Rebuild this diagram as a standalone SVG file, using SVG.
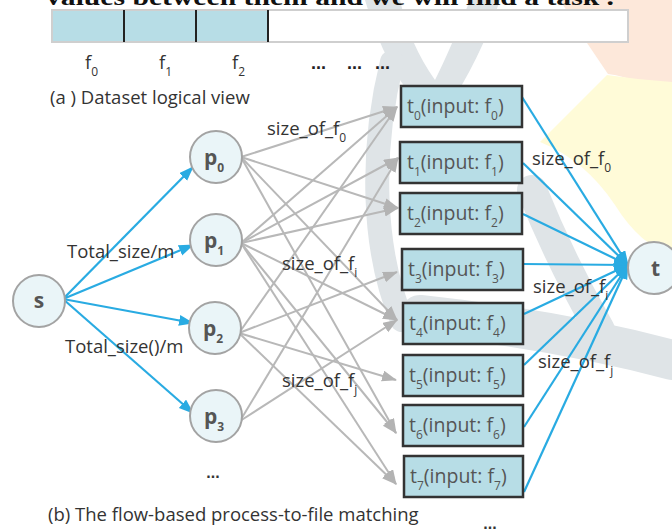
<svg xmlns="http://www.w3.org/2000/svg" width="672" height="530" viewBox="0 0 672 530">
  <style>
    .lbl { font-family: "Open Sans", "Liberation Sans", sans-serif; font-size: 18.5px; fill: #333; }
    .sub { font-size: 12px; }
    .node { fill: #eaf5f8; stroke: #a3a3a3; stroke-width: 2; }
    .nlbl { font-family: "Open Sans", "Liberation Sans", sans-serif; font-weight: bold; font-size: 21px; fill: #555; }
    .task { fill: #b7dde6; stroke: #333; stroke-width: 2.5; }
    .tlbl { font-family: "Open Sans", "Liberation Sans", sans-serif; font-size: 19.5px; fill: #555; }
    .blue { stroke: #29abe2; stroke-width: 2.2; fill: none; marker-end: url(#ab); }
    .gray { stroke: #b8b8b8; stroke-width: 2; fill: none; marker-end: url(#ag); }
    .wm { fill: none; stroke: #dfe4e7; stroke-linecap: round; }
    .dots { font-family: "Liberation Sans", sans-serif; font-weight: bold; font-size: 18px; fill: #222; }
  </style>
  <defs>
    <marker id="ab" markerUnits="userSpaceOnUse" markerWidth="17" markerHeight="13" refX="14" refY="5.5" orient="auto">
      <path d="M0,0 L15,5.5 L0,11 z" fill="#29abe2"/>
    </marker>
    <marker id="ag" markerUnits="userSpaceOnUse" markerWidth="17" markerHeight="13" refX="14" refY="5.5" orient="auto">
      <path d="M0,0 L15,5.5 L0,11 z" fill="#b3b3b3"/>
    </marker>
  </defs>

  <rect width="672" height="530" fill="#fff"/>

  <!-- faint background emblem -->
  <g id="emblem">
    <path d="M560,0 L672,0 L672,100 Q640,78 608,74 L585,40 Z" fill="#fde8da"/>
    <path d="M540,142 L607,75 Q640,80 672,82 L672,255 Q640,245 615,205 Q585,160 540,142 Z" fill="#fffbd8"/>
    <path d="M365,0 Q385,70 425,112 L445,112 Q480,60 500,0 L470,0 Q450,50 435,80 Q410,45 400,0 Z" fill="#dfe4e7"/>
    <path class="wm" d="M392,62 C370,150 372,250 402,320" stroke-width="24"/>
    <path class="wm" d="M420,315 Q560,330 672,360" stroke-width="40"/>
    <path class="wm" d="M532,190 Q560,260 600,330" stroke-width="30"/>
  </g>

  <!-- running text cut off above the figure -->
  <text x="46" y="5" font-family="Liberation Serif, serif" font-weight="bold" font-size="24" fill="#111" textLength="568" lengthAdjust="spacingAndGlyphs">values between them and we will find a task .</text>

  <!-- (a) dataset strip -->
  <g id="dataset">
    <rect x="52" y="10" width="576" height="32" fill="#fff" stroke="#cfcfcf" stroke-width="2"/>
    <rect x="53" y="11" width="215" height="30" fill="#b7dde6"/>
    <path d="M124,10 V42 M196,10 V42 M268,10 V42" stroke="#222" stroke-width="2"/>
    <text class="lbl" x="85" y="69">f<tspan class="sub" dy="7">0</tspan></text>
    <text class="lbl" x="159" y="69">f<tspan class="sub" dy="7">1</tspan></text>
    <text class="lbl" x="232" y="69">f<tspan class="sub" dy="7">2</tspan></text>
    <text class="dots" x="311" y="69">...</text>
    <text class="dots" x="347" y="69">...</text>
    <text class="dots" x="375" y="69">...</text>
    <text class="lbl" x="50" y="104" font-size="17.5">(a ) Dataset logical view</text>
  </g>

  <!-- connectors -->
  <g id="connectors">
    <!-- source to processes -->
    <line class="blue" x1="63" y1="299" x2="193" y2="167"/>
    <line class="blue" x1="63" y1="299" x2="193" y2="245"/>
    <line class="blue" x1="63" y1="299" x2="193" y2="323"/>
    <line class="blue" x1="63" y1="299" x2="193" y2="413"/>
    <!-- processes to tasks -->
    <line class="gray" x1="241" y1="157" x2="397" y2="107"/>
    <line class="gray" x1="241" y1="157" x2="398" y2="208"/>
    <line class="gray" x1="241" y1="157" x2="397" y2="320"/>
    <line class="gray" x1="241" y1="157" x2="396" y2="433"/>
    <line class="gray" x1="241" y1="243" x2="397" y2="107"/>
    <line class="gray" x1="241" y1="243" x2="398" y2="158"/>
    <line class="gray" x1="241" y1="243" x2="398" y2="208"/>
    <line class="gray" x1="241" y1="243" x2="397" y2="320"/>
    <line class="gray" x1="241" y1="243" x2="396" y2="433"/>
    <line class="gray" x1="241" y1="243" x2="396" y2="484"/>
    <line class="gray" x1="239" y1="333" x2="397" y2="107"/>
    <line class="gray" x1="239" y1="333" x2="397" y2="272"/>
    <line class="gray" x1="239" y1="333" x2="396" y2="380"/>
    <line class="gray" x1="239" y1="333" x2="396" y2="484"/>
    <line class="gray" x1="240" y1="421" x2="398" y2="158"/>
    <line class="gray" x1="240" y1="421" x2="397" y2="320"/>
    <!-- tasks to sink -->
    <line class="blue" x1="522" y1="97" x2="628" y2="265"/>
    <line class="blue" x1="523" y1="163" x2="628" y2="265"/>
    <line class="blue" x1="523" y1="214" x2="628" y2="265"/>
    <line class="blue" x1="523" y1="264" x2="628" y2="265"/>
    <line class="blue" x1="524" y1="314" x2="628" y2="265"/>
    <line class="blue" x1="524" y1="365" x2="628" y2="265"/>
    <line class="blue" x1="524" y1="427" x2="628" y2="265"/>
    <line class="blue" x1="524" y1="492" x2="628" y2="265"/>
  </g>

  <!-- edge labels -->
  <g id="edge-labels">
    <text class="lbl" x="67" y="258">Total_size/m</text>
    <text class="lbl" x="65" y="353">Total_size()/m</text>
    <text class="lbl" x="267" y="135">size_of_f<tspan class="sub" dy="7">0</tspan></text>
    <text class="lbl" x="282" y="270">size_of_f<tspan class="sub" dy="7">i</tspan></text>
    <text class="lbl" x="282" y="387">size_of_f<tspan class="sub" dy="7">j</tspan></text>
    <text class="lbl" x="532" y="165">size_of_f<tspan class="sub" dy="7">0</tspan></text>
    <text class="lbl" x="533" y="293">size_of_f<tspan class="sub" dy="7">i</tspan></text>
    <text class="lbl" x="538" y="368">size_of_f<tspan class="sub" dy="7">j</tspan></text>
  </g>

  <!-- nodes -->
  <g id="node-s"><circle class="node" cx="39" cy="301" r="26"/><text class="nlbl" x="39" y="308" text-anchor="middle">s</text></g>
  <g id="node-p0"><circle class="node" cx="216" cy="157" r="26"/><text class="nlbl" x="204" y="165">p<tspan class="sub" dy="7">0</tspan></text></g>
  <g id="node-p1"><circle class="node" cx="216" cy="240" r="26"/><text class="nlbl" x="204" y="248">p<tspan class="sub" dy="7">1</tspan></text></g>
  <g id="node-p2"><circle class="node" cx="215" cy="328" r="26"/><text class="nlbl" x="203" y="336">p<tspan class="sub" dy="7">2</tspan></text></g>
  <g id="node-p3"><circle class="node" cx="216" cy="416" r="26"/><text class="nlbl" x="204" y="424">p<tspan class="sub" dy="7">3</tspan></text></g>
  <g id="node-t"><circle class="node" cx="654" cy="268" r="26"/><text class="nlbl" x="651" y="276">t</text></g>

  <g id="task-t0"><rect class="task" x="401" y="86" width="121" height="41"/><text class="tlbl" x="407" y="113">t<tspan class="sub" dy="7">0</tspan><tspan dy="-7">(input: f</tspan><tspan class="sub" dy="7">0</tspan><tspan dy="-7">)</tspan></text></g>
  <g id="task-t1"><rect class="task" x="400" y="142" width="122" height="41"/><text class="tlbl" x="407" y="169">t<tspan class="sub" dy="7">1</tspan><tspan dy="-7">(input: f</tspan><tspan class="sub" dy="7">1</tspan><tspan dy="-7">)</tspan></text></g>
  <g id="task-t2"><rect class="task" x="400" y="193" width="122" height="41"/><text class="tlbl" x="407" y="220">t<tspan class="sub" dy="7">2</tspan><tspan dy="-7">(input: f</tspan><tspan class="sub" dy="7">2</tspan><tspan dy="-7">)</tspan></text></g>
  <g id="task-t3"><rect class="task" x="402" y="249" width="121" height="41"/><text class="tlbl" x="408" y="276">t<tspan class="sub" dy="7">3</tspan><tspan dy="-7">(input: f</tspan><tspan class="sub" dy="7">3</tspan><tspan dy="-7">)</tspan></text></g>
  <g id="task-t4"><rect class="task" x="403" y="303" width="120" height="41"/><text class="tlbl" x="409" y="330">t<tspan class="sub" dy="7">4</tspan><tspan dy="-7">(input: f</tspan><tspan class="sub" dy="7">4</tspan><tspan dy="-7">)</tspan></text></g>
  <g id="task-t5"><rect class="task" x="403" y="355" width="120" height="41"/><text class="tlbl" x="409" y="382">t<tspan class="sub" dy="7">5</tspan><tspan dy="-7">(input: f</tspan><tspan class="sub" dy="7">5</tspan><tspan dy="-7">)</tspan></text></g>
  <g id="task-t6"><rect class="task" x="403" y="405" width="120" height="41"/><text class="tlbl" x="409" y="432">t<tspan class="sub" dy="7">6</tspan><tspan dy="-7">(input: f</tspan><tspan class="sub" dy="7">6</tspan><tspan dy="-7">)</tspan></text></g>
  <g id="task-t7"><rect class="task" x="404" y="456" width="119" height="41"/><text class="tlbl" x="410" y="483">t<tspan class="sub" dy="7">7</tspan><tspan dy="-7">(input: f</tspan><tspan class="sub" dy="7">7</tspan><tspan dy="-7">)</tspan></text></g>

  <!-- ellipses and caption -->
  <text x="213" y="478" text-anchor="middle" font-family="Liberation Sans, sans-serif" font-weight="bold" font-size="16" fill="#333">...</text>
  <text x="490" y="529" text-anchor="middle" font-family="Liberation Sans, sans-serif" font-weight="bold" font-size="16" fill="#333">...</text>
  <text class="lbl" x="48" y="521" font-size="17.3">(b) The flow-based process-to-file matching</text>
</svg>
